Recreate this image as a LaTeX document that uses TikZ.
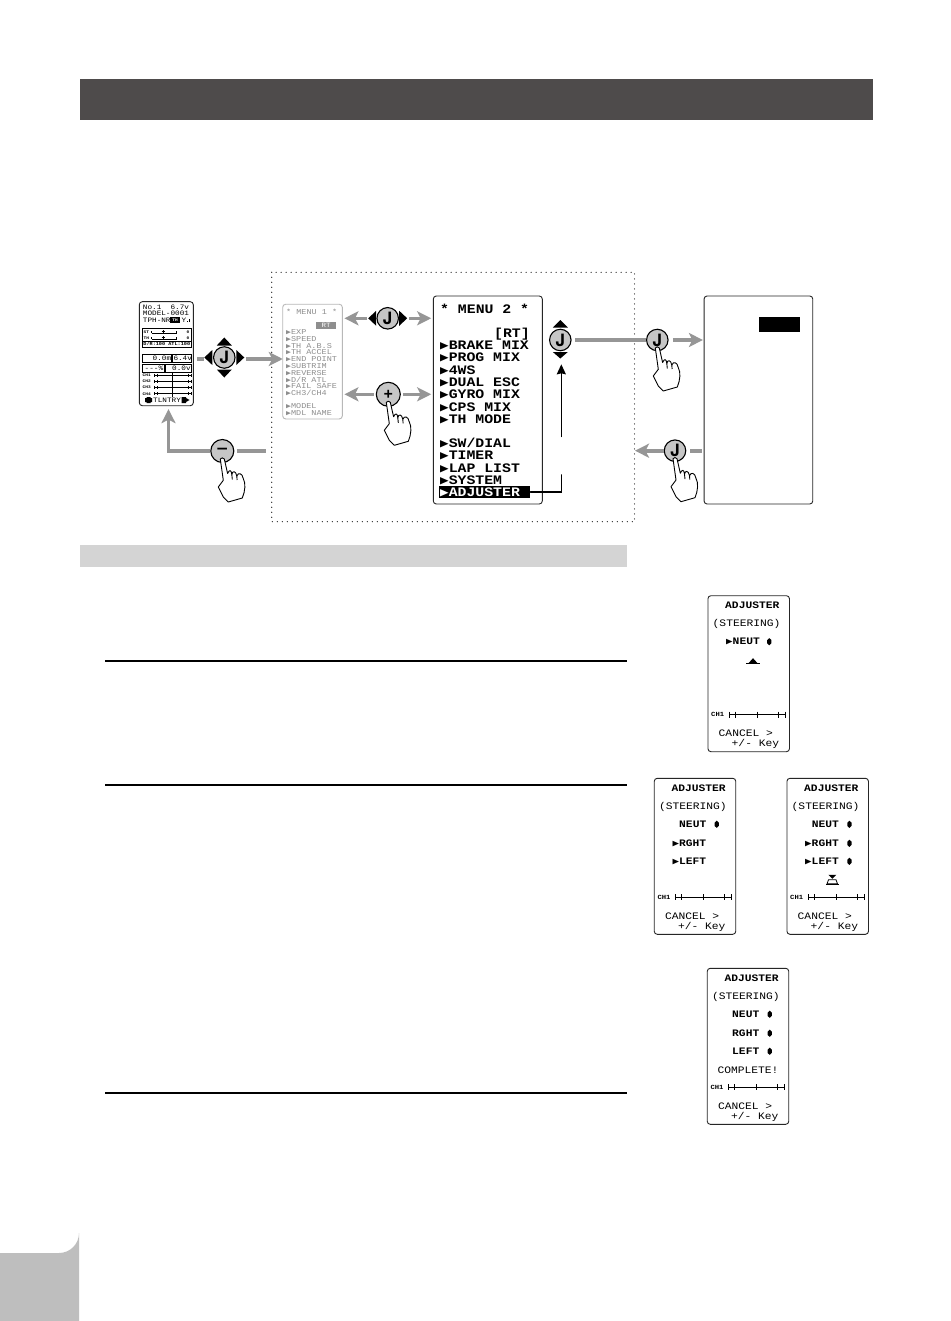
\documentclass[tikz,border=0pt]{standalone}
\usepackage{fontspec}
\setmainfont{Liberation Sans}
\newfontfamily\lcdfont[FakeStretch=1.14]{Liberation Mono}
\newfontfamily\symfont[FakeStretch=1.14]{DejaVu Sans Mono}
\newfontfamily\btnfont{TeX Gyre Heros}
\usetikzlibrary{arrows.meta,calc}
\definecolor{hdr}{HTML}{4E4B4B}
\definecolor{subbar}{HTML}{D4D4D4}
\definecolor{tabgray}{HTML}{BEBEBE}
\definecolor{flow}{HTML}{969696}
\definecolor{btn}{HTML}{C6C6C6}
\definecolor{faded}{HTML}{8E8E8E}
\newcommand{\tritri}{{\symfont\scalebox{.96}{▶}}}
\newcommand{\lcd}[1]{\lcdfont\fontsize{#1}{#1}\selectfont}
\tikzset{
  x=1pt,y=-1pt,
  flowline/.style={draw=flow,line width=3.6pt},
  flowarrow/.style={flowline,-{Stealth[length=14pt,width=14pt,inset=3.5pt]}},
  lcdbox/.style={draw=black!85,line width=.9pt,rounded corners=3pt,fill=white,inner sep=0pt},
  fadedbox/.style={draw=black!28,line width=.9pt,rounded corners=3pt,fill=white,inner sep=0pt},
  jbtn/.style={circle,draw=black,line width=1.1pt,fill=btn,minimum size=21.5pt,inner sep=0pt,font=\btnfont\bfseries\fontsize{17}{17}\selectfont},
  mtwotxt/.style={anchor=west,inner sep=0pt,text height=8.6pt,text depth=0pt,font=\lcd{13}\bfseries},
  monetxt/.style={anchor=west,inner sep=0pt,text height=5pt,text depth=0pt,text=faded,font=\lcd{7.45}},
  hometxt/.style={anchor=west,inner sep=0pt,text height=4.5pt,text depth=0pt,font=\lcd{6.75}},
  homesmall/.style={anchor=west,inner sep=0pt,text height=2.6pt,text depth=0pt,font=\lcd{3.9}\bfseries},
  homerect/.style={draw=black,line width=.7pt,inner sep=0pt},
  adjtxt/.style={anchor=west,inner sep=0pt,text height=6.5pt,text depth=0pt,font=\lcd{9.9}},
  adjbold/.style={adjtxt,font=\lcd{9.9}\bfseries},
  chtxt/.style={anchor=west,inner sep=0pt,text height=4.2pt,text depth=0pt,font=\lcd{6.3}\bfseries},
  rulehard/.style={draw=black,line width=1.5pt},
  handicon/.pic={
    \draw[line width=.9pt,fill=white,line join=round]
      (-2,8) -- (1,29.3) -- (-4,36) -- (1,46) -- (6,51) -- (20,47)
      .. controls (23,40) and (23.5,32) .. (21,27.7)
      .. controls (20,22) and (16,21) .. (14.5,25)
      .. controls (13.5,19.5) and (10,19.5) .. (9.5,23.5)
      .. controls (9,18.5) and (7,18.5) .. (5.3,22.5)
      -- (2,8) .. controls (1,6.5) and (-1,6.5) .. (-2,8) -- cycle;
    \draw[line width=.9pt] (14.5,25) -- (14.8,29) (9.5,23.5) -- (10,28.5);
  },
  adjmark/.pic={\fill (0,-3.6) -- (2.1,-1.6) -- (2.1,1.6) -- (0,3.6) -- (-2.1,1.6) -- (-2.1,-1.6) -- cycle;},
  chbar/.pic={
    \draw[line width=.8pt] (0,0) -- (56,0) (0,-3) -- (0,3) (6,-3) -- (6,3) (28,-3) -- (28,3) (56,-3) -- (56,3);
    \draw[line width=1.5pt] (49,-3) -- (49,3);
  },
  homebar/.pic={
    \draw[line width=.6pt] (0,0) -- (37,0) (0,-1.7) -- (0,1.7) (3,-1.7) -- (3,1.7) (18.4,-3.2) -- (18.4,3.2) (33.5,-1.7) -- (33.5,1.7) (37,-1.7) -- (37,1.7);
  },
  adjbase/.pic={
    \node[lcdbox,minimum width=81.5pt,minimum height=156pt] (-box) at (40.7,78) {};
    \node[adjbold] (-title) at (17,10) {ADJUSTER};
    \node[adjtxt] (-steer) at (4.5,28) {(STEERING)};
    \node[chtxt] (-ch) at (3,119) {CH1};
    \pic at (21.3,119) {chbar};
    \node[adjtxt] (-cancel) at (10.5,138) {CANCEL >};
    \node[adjtxt] (-key) at (23.5,147.5) {+/- Key};
  },
}
\newcommand{\miitxt}[3]{\node[mtwotxt] (#1) at (440,#2) {#3};}
\newcommand{\mitxt}[3]{\node[monetxt] (#1) at (286,#2) {#3};}
\begin{document}
\begin{tikzpicture}
\useasboundingbox (0,0) rectangle (950,1321);
\fill[white] (0,0) rectangle (950,1321);
% page furniture
\fill[hdr] (80,79) rectangle (873,120);
\fill[subbar] (80,545) rectangle (627,567);
\fill[tabgray] (0,1253) -- (59,1253) arc[start angle=90,end angle=0,radius=20] -- (79,1321) -- (0,1321) -- cycle;
\coordinate (r1a) at (105,661); \coordinate (r1b) at (627,661);
\coordinate (r2a) at (105,785); \coordinate (r2b) at (627,785);
\coordinate (r3a) at (105,1093); \coordinate (r3b) at (627,1093);
\draw[rulehard] (r1a) -- (r1b);
\draw[rulehard] (r2a) -- (r2b);
\draw[rulehard] (r3a) -- (r3b);
% dotted frame
\draw[line width=1.2pt,line cap=round,dash pattern=on 0pt off 5pt] (271.7,272.3) rectangle (634.5,521.7);

% home screen
\node[lcdbox,minimum width=54pt,minimum height=104pt] (home) at (166.3,353.7) {};
\node[hometxt] (h1) at (142.7,307.3) {No.1\ \ 6.7v};
\node[hometxt] (h2) at (142.7,313.5) {MODEL-0001};
\node[hometxt] (h3) at (142.7,320) {TPH-NR};
\node[fill=black,text=white,inner sep=0pt,minimum width=10pt,minimum height=5.4pt,font=\lcd{3.9}\bfseries] (h3b) at (175,320) {TH};
\node[hometxt] (h3c) at (181.5,320) {Y};
\draw[line width=.8pt] (187,322) -- (187,320.5) (189,322) -- (189,318.5);
\node[homerect,minimum width=48.7pt,minimum height=19.4pt] (trim) at (166.7,338) {};
\draw[line width=.7pt] (142.3,341) -- (191,341);
\node[homesmall] (tst) at (143.5,331.7) {ST};
\node[homesmall] (tth) at (143.5,337.7) {TH};
\node[homesmall] (vst) at (186.5,331.7) {0};
\node[homesmall] (vth) at (186.5,337.7) {0};
\draw[line width=.6pt] (151.7,333) -- (176.7,333) (151.7,331) -- (151.7,333) (176.7,331) -- (176.7,333) (163.3,330) -- (163.3,333) (161.5,331.5) -- (165,331.5);
\draw[line width=.6pt] (151.7,339) -- (176.7,339) (151.7,337) -- (151.7,339) (176.7,337) -- (176.7,339) (163.3,336) -- (163.3,339) (161.5,337.5) -- (165,337.5);
\node[anchor=west,inner sep=0pt,text height=3pt,text depth=0pt,font=\lcd{4.56}\bfseries] (dr) at (143.2,344.3) {D/R:100 ATL:100};
\node[homerect,minimum width=29.4pt,minimum height=8.4pt] (r1) at (157,358.5) {};
\node[homerect,minimum width=18.3pt,minimum height=8.4pt] (r2) at (181.9,358.5) {};
\node[homerect,minimum width=21.7pt,minimum height=8pt] (r3) at (153.2,368.3) {};
\node[homerect,minimum width=26pt,minimum height=8pt] (r4) at (178,368.3) {};
\node[hometxt] (t1) at (152.5,358.5) {0.0m};
\node[hometxt] (t2) at (173.3,358.5) {6.4v};
\node[hometxt] (t3) at (144.5,368.3) {---\%};
\node[hometxt] (t4) at (172,368.3) {0.0v};
\node[homesmall] (c1) at (142.5,375.3) {CH1};
\node[homesmall] (c2) at (142.5,381.3) {CH2};
\node[homesmall] (c3) at (142.5,387.5) {CH3};
\node[homesmall] (c4) at (142.5,393.7) {CH4};
\pic at (154.3,375.3) {homebar};
\pic at (154.3,381.3) {homebar};
\pic at (154.3,387.5) {homebar};
\pic at (154.3,393.7) {homebar};
\node[hometxt] (tl) at (153,400) {TLNTRY};
\fill (145,398) rectangle (152,402) (146.5,397) rectangle (150.5,403);
\fill (181.5,397) rectangle (186,403) (186,398) -- (189.5,400) -- (186,402) -- cycle;

% menu 1
\node[fadedbox,minimum width=59.6pt,minimum height=114.7pt] (m1) at (312.5,361.6) {};
\mitxt{a0}{312}{* MENU 1 *}
\node[fill=faded,text=white,inner sep=0pt,minimum width=20.3pt,minimum height=6.6pt,font=\lcd{6.5}] (a00) at (326,325.6) {RT};
\mitxt{a1}{332}{\tritri EXP}
\mitxt{a2}{338.8}{\tritri SPEED}
\mitxt{a3}{345.6}{\tritri TH A.B.S}
\mitxt{a4}{352.4}{\tritri TH ACCEL}
\mitxt{a5}{359.2}{\tritri END POINT}
\mitxt{a6}{366}{\tritri SUBTRIM}
\mitxt{a7}{372.8}{\tritri REVERSE}
\mitxt{a8}{379.6}{\tritri D/R ATL}
\mitxt{a9}{386.2}{\tritri FAIL SAFE}
\mitxt{a10}{392.6}{\tritri CH3/CH4}
\mitxt{a11}{406.4}{\tritri MODEL}
\mitxt{a12}{413.2}{\tritri MDL NAME}

% menu 2
\node[lcdbox,minimum width=109pt,minimum height=208pt] (m2) at (487.8,400) {};
\miitxt{b0}{309}{* MENU 2 *}
\node[mtwotxt] (b00) at (494,333) {[RT]};
\miitxt{b1}{345}{\tritri BRAKE MIX}
\miitxt{b2}{357}{\tritri PROG MIX}
\miitxt{b3}{370}{\tritri 4WS}
\miitxt{b4}{382}{\tritri DUAL ESC}
\miitxt{b5}{394.5}{\tritri GYRO MIX}
\miitxt{b6}{407}{\tritri CPS MIX}
\miitxt{b7}{419}{\tritri TH MODE}
\miitxt{b8}{443.5}{\tritri SW/DIAL}
\miitxt{b9}{455.5}{\tritri TIMER}
\miitxt{b10}{468}{\tritri LAP LIST}
\miitxt{b11}{480}{\tritri SYSTEM}
\node[fill=black,minimum width=91pt,minimum height=11.7pt,inner sep=0pt] (adjrow) at (484.8,491.9) {};
\node[mtwotxt,text=white] (b12) at (440,491.9) {\tritri ADJUSTER};

% right blank screen
\node[lcdbox,minimum width=108.7pt,minimum height=208pt] (blank) at (758.4,400) {};
\node[fill=black,minimum width=40.7pt,minimum height=14.4pt,inner sep=0pt] (blankbar) at (779.4,324.5) {};

% buttons
\node[jbtn] (ja) at (224.3,357.5) {J};
\node[jbtn] (jb) at (387.7,318.3) {J};
\node[jbtn,minimum size=24pt] (plus) at (388.3,394.3) {+};
\node[jbtn,minimum size=23pt] (minus) at (222.3,451) {–};
\node[jbtn] (jc) at (560.3,340) {J};
\node[jbtn] (jd) at (657.3,340) {J};
\node[jbtn] (je) at (675,450.7) {J};
% direction triangles
\fill (ja.center) ++(0,-20) -- ++(7.5,8) -- ++(-15,0) -- cycle;
\fill (ja.center) ++(0,20) -- ++(7.5,-8) -- ++(-15,0) -- cycle;
\fill (ja.center) ++(-20,0) -- ++(8,7.5) -- ++(0,-15) -- cycle;
\fill (ja.center) ++(20,0) -- ++(-8,7.5) -- ++(0,-15) -- cycle;
\fill (jb.center) ++(-19.5,0) -- ++(8,7.5) -- ++(0,-15) -- cycle;
\fill (jb.center) ++(19.5,0) -- ++(-8,7.5) -- ++(0,-15) -- cycle;
\fill (jc.center) ++(0,-20) -- ++(7.5,7.5) -- ++(-15,0) -- cycle;
\fill (jc.center) ++(0,18.5) -- ++(7.5,-6.5) -- ++(-15,0) -- cycle;
% connectors
\coordinate (stubA) at (197,359);
\draw[flowline,shorten >=20.5pt] (stubA) -- (ja.center |- stubA);
\draw[flowarrow,shorten <=22pt,shorten >=-.5pt] (ja.center |- stubA) -- (m1.west |- stubA);
\draw[flowarrow,shorten <=20.5pt,shorten >=1.7pt] (jb.center) -- (m1.east |- jb.center);
\draw[flowarrow,shorten <=21.5pt,shorten >=1.7pt] (jb.center) -- (m2.west |- jb.center);
\draw[flowarrow,shorten <=14.5pt,shorten >=1.7pt] (plus.center) -- (m1.east |- plus.center);
\draw[flowarrow,shorten <=14.5pt,shorten >=1.7pt] (plus.center) -- (m2.west |- plus.center);
\coordinate (minusR) at (265.7,451);
\coordinate (minusL) at (168.5,451);
\draw[flowline,shorten <=14.5pt] (minus.center) -- (minusR);
\draw[flowarrow,shorten >=3pt] (minus.west) -- (minusL) -- (home.south -| minusL);
\draw[flowline,shorten <=15pt] (jc.center) -- (jd);
\draw[flowarrow,shorten <=15.5pt,shorten >=.7pt] (jd.center) -- (blank.west |- jd.center);
\coordinate (frameE) at (635,450.7);
\coordinate (stubE) at (701.7,450.7);
\draw[flowline,shorten <=15pt] (je.center) -- (stubE);
\draw[flowarrow,shorten <=11.5pt] (je.center) -- (frameE);
\coordinate (upA) at (561.3,475);
\coordinate (upB) at (561.3,437.3);
\draw[line width=1.6pt,line cap=round] (adjrow.east) -| (upA);
\draw[line width=1.6pt,-{Stealth[length=10pt,width=9pt,inset=1pt]},shorten >=24.3pt] (upB) -- (upB |- jc);
% hands
\pic at (plus.center) {handicon};
\pic at (minus.center) {handicon};
\pic at (jd.center) {handicon};
\pic at (je.center) {handicon};

% adjuster screen 1
\begin{scope}[shift={(708,595.7)}]
\pic (s1) at (0,0) {adjbase};
\node[adjbold] (s1n) at (18,46) {\tritri NEUT};
\pic at (61.3,46) {adjmark};
\draw[line width=1.2pt] (38,67.7) -- (52,67.7);
\fill (40.5,67.5) -- (49.5,67.5) -- (45,62.5) -- cycle;
\end{scope}
% adjuster screen 2
\begin{scope}[shift={(654.3,778.3)}]
\pic (s2) at (0,0) {adjbase};
\node[adjbold] (s2n) at (24.7,46) {NEUT};
\pic at (62.4,46) {adjmark};
\node[adjbold] (s2r) at (18,65) {\tritri RGHT};
\node[adjbold] (s2l) at (18,83) {\tritri LEFT};
\end{scope}
% adjuster screen 3
\begin{scope}[shift={(787,778.3)}]
\pic (s3) at (0,0) {adjbase};
\node[adjbold] (s3n) at (24.7,46) {NEUT};
\pic at (62.4,46) {adjmark};
\node[adjbold] (s3r) at (18,65) {\tritri RGHT};
\pic at (62.4,65) {adjmark};
\node[adjbold] (s3l) at (18,83) {\tritri LEFT};
\pic at (62.4,83) {adjmark};
\fill (41.3,96.5) -- (49.3,96.5) -- (45.3,100.5) -- cycle;
\draw[line width=.8pt] (41.5,101.5) -- (49,101.5) -- (50.5,105.5) -- (40,105.5) -- cycle;
\draw[line width=1pt] (39,105.7) -- (51.5,105.7);
\end{scope}
% adjuster screen 4
\begin{scope}[shift={(707.3,968.3)}]
\pic (s4) at (0,0) {adjbase};
\node[adjbold] (s4n) at (24.7,46) {NEUT};
\pic at (62.4,46) {adjmark};
\node[adjbold] (s4r) at (24.7,65) {RGHT};
\pic at (62.4,65) {adjmark};
\node[adjbold] (s4l) at (24.7,83) {LEFT};
\pic at (62.4,83) {adjmark};
\node[adjtxt] (s4c) at (10,102) {COMPLETE!};
\end{scope}
\end{tikzpicture}
\end{document}
